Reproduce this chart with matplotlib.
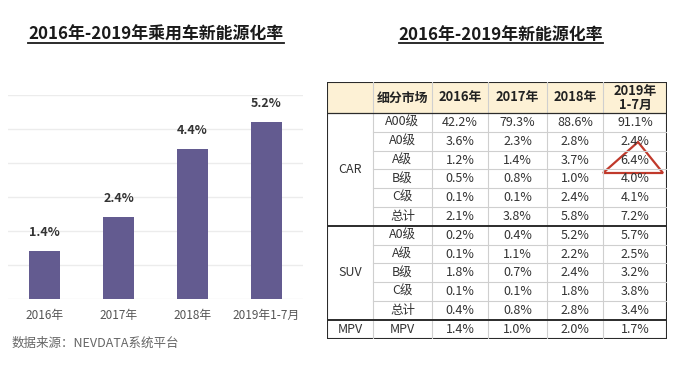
import matplotlib
matplotlib.use('Agg')
import matplotlib.pyplot as plt
from matplotlib.patches import Rectangle, Polygon
from matplotlib.lines import Line2D

plt.rcParams['font.family'] = ['Noto Sans CJK SC', 'DejaVu Sans']

# bar chart data
years = ['2016年', '2017年', '2018年', '2019年1-7月']
pv_rate = [1.4, 2.4, 4.4, 5.2]

# table data
header = ['', '细分市场', '2016年', '2017年', '2018年', '2019年\n1-7月']
segments = ['CAR', 'SUV', 'MPV']
seg_rows = [6, 5, 1]
classes = ['A00级', 'A0级', 'A级', 'B级', 'C级', '总计',
           'A0级', 'A级', 'B级', 'C级', '总计', 'MPV']
r2016 = [42.2, 3.6, 1.2, 0.5, 0.1, 2.1, 0.2, 0.1, 1.8, 0.1, 0.4, 1.4]
r2017 = [79.3, 2.3, 1.4, 0.8, 0.1, 3.8, 0.4, 1.1, 0.7, 0.1, 0.8, 1.0]
r2018 = [88.6, 2.8, 3.7, 1.0, 2.4, 5.8, 5.2, 2.2, 2.4, 1.8, 2.8, 2.0]
r2019 = [91.1, 2.4, 6.4, 4.0, 4.1, 7.2, 5.7, 2.5, 3.2, 3.8, 3.4, 1.7]

W, H = 679, 370
fig = plt.figure(figsize=(W / 100, H / 100), dpi=100)


def fx(px):
    return px / W


def fy(py):
    return 1 - py / H


# ---- left: bar chart ----
ax = fig.add_axes([fx(8), fy(299), fx(295), 204 / H])
xs = range(len(years))
ax.bar(xs, pv_rate, width=0.42, color='#635b90', zorder=3)
ax.set_xlim(-0.5, 3.5)
ax.set_ylim(0, 6)
ax.set_yticks(range(0, 7))
ax.yaxis.grid(True, color='#ececec', linewidth=1)
ax.tick_params(left=False, labelleft=False, bottom=False)
ax.set_xticks(list(xs))
ax.set_xticklabels(years, fontsize=8.5, color='#555555')
for s in ax.spines.values():
    s.set_visible(False)
for x, v in zip(xs, pv_rate):
    ax.annotate(f'{v}%', (x, v), xytext=(0, 9), textcoords='offset points',
                ha='center', va='bottom', fontsize=9, fontweight='bold', color='#333333')

fig.text(fx(12), fy(343), '数据来源：NEVDATA系统平台', fontsize=9, color='#666666',
         va='center', ha='left')

# ---- titles with underline ----
titles = [(fx(156), '2016年-2019年乘用车新能源化率'),
          (fx(501), '2016年-2019年新能源化率')]
title_objs = []
for tx, t in titles:
    title_objs.append(fig.text(tx, fy(35), t, fontsize=12.2, fontweight='bold',
                               color='#1a1a1a', ha='center', va='center'))
fig.canvas.draw()
r = fig.canvas.get_renderer()
for t in title_objs:
    bb = t.get_window_extent(r).transformed(fig.transFigure.inverted())
    fig.add_artist(Line2D([bb.x0, bb.x1], [fy(43), fy(43)], color='#1a1a1a',
                          linewidth=1.3, transform=fig.transFigure))

# ---- right: table ----
col_w = [46, 59, 56, 59, 56, 64]
head_h = 31
row_h = 18.8
n_rows = len(classes)
tw = sum(col_w)
th = head_h + row_h * n_rows
axt = fig.add_axes([fx(327), fy(82 + th), fx(tw), th / H])
axt.set_xlim(0, tw)
axt.set_ylim(th, 0)
axt.axis('off')

col_x = [0]
for w in col_w:
    col_x.append(col_x[-1] + w)

axt.add_patch(Rectangle((0, 0), tw, head_h, facecolor='#fdf1d5', edgecolor='none'))

light = '#cfcfcf'
dark = '#2b2b2b'
txt = '#333333'

for i, h in enumerate(header):
    if h:
        axt.text((col_x[i] + col_x[i + 1]) / 2, head_h / 2, h, ha='center', va='center',
                 fontsize=9.3, fontweight='bold', color='#222222', linespacing=1.0)

# vertical light lines
for cx in col_x[1:-1]:
    axt.plot([cx, cx], [0, th], color=light, linewidth=0.8)

# row lines and cells
cols = [r2016, r2017, r2018, r2019]
boundaries = []
acc = 0
for n in seg_rows:
    acc += n
    boundaries.append(acc)
for j in range(n_rows):
    y0 = head_h + j * row_h
    yc = y0 + row_h / 2
    axt.text((col_x[1] + col_x[2]) / 2, yc, classes[j], ha='center', va='center',
             fontsize=9, color=txt)
    for k, c in enumerate(cols):
        axt.text((col_x[k + 2] + col_x[k + 3]) / 2, yc, f'{c[j]:.1f}%', ha='center',
                 va='center', fontsize=9, color=txt)
    if j > 0 and j not in boundaries:
        axt.plot([col_x[1], tw], [y0, y0], color=light, linewidth=0.8)

# segment labels and dark separators
start = 0
for seg, n in zip(segments, seg_rows):
    yc = head_h + (start + n / 2) * row_h
    axt.text(col_x[1] / 2, yc, seg, ha='center', va='center', fontsize=9, color=txt)
    start += n
    if start < n_rows:
        yb = head_h + start * row_h
        axt.plot([0, tw], [yb, yb], color=dark, linewidth=1.4)

axt.plot([0, tw], [head_h, head_h], color=dark, linewidth=0.9)
axt.add_patch(Rectangle((0, 0), tw, th, facecolor='none', edgecolor=dark, linewidth=1.5))

# red triangle mark around 2019 A-class value
tri = Polygon([[311, 60], [276, 91], [336, 91]], closed=True, fill=False,
              edgecolor='#c0392b', linewidth=1.6)
axt.add_patch(tri)

fig.savefig('out.png', dpi=100, facecolor='white')
